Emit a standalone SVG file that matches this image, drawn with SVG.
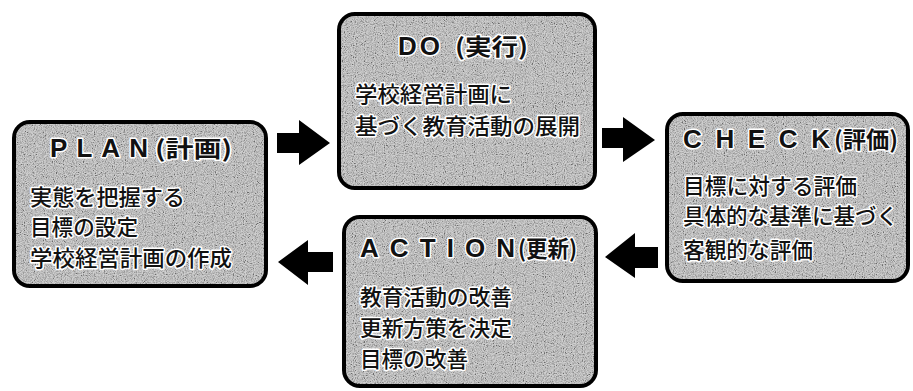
<svg xmlns="http://www.w3.org/2000/svg" width="913" height="391" viewBox="0 0 913 391">
  <defs>
    <filter id="grain" x="0" y="0" width="100%" height="100%">
      <feTurbulence type="fractalNoise" baseFrequency="0.9" numOctaves="2" seed="7" result="n"/>
      <feColorMatrix in="n" type="saturate" values="0" result="g"/>
      <feComponentTransfer in="g" result="c">
        <feFuncR type="linear" slope="3" intercept="-0.9"/>
        <feFuncG type="linear" slope="3" intercept="-0.9"/>
        <feFuncB type="linear" slope="3" intercept="-0.9"/>
        <feFuncA type="linear" slope="0" intercept="1"/>
      </feComponentTransfer>
      <feComposite in="c" in2="SourceGraphic" operator="in"/>
    </filter>
    <style>
      .box { fill: #b2b2b2; stroke: #000; stroke-width: 4; }
      .grain { fill: #fff; opacity: 0.4; filter: url(#grain); }
      .t { fill: #111; stroke: #fff; stroke-width: 3; stroke-linejoin: round; paint-order: stroke; }
      .title { font-family: "Liberation Sans", Arial, sans-serif; font-size: 26px; font-weight: bold; }
      .paren { font-family: "Noto Sans CJK JP", "Noto Sans", sans-serif; font-size: 23px; font-weight: bold; }
      .body { font-family: "Noto Sans CJK JP", "Noto Sans", sans-serif; font-size: 22px; font-weight: 500; }
      .arrow { fill: #000; }
    </style>
  </defs>
  <rect width="913" height="391" fill="#fff"/>

  <g id="plan">
    <rect class="box" x="14" y="122" width="252" height="164" rx="16"/>
    <rect class="grain" x="16" y="124" width="248" height="160" rx="14"/>
    <text class="t title" x="50" y="157" textLength="98" lengthAdjust="spacing">PLAN</text>
    <text class="t paren" x="155" y="157" textLength="77" lengthAdjust="spacingAndGlyphs">(計画)</text>
    <text class="t body" x="30" y="205" textLength="155" lengthAdjust="spacingAndGlyphs">実態を把握する</text>
    <text class="t body" x="30" y="235" textLength="108" lengthAdjust="spacingAndGlyphs">目標の設定</text>
    <text class="t body" x="30" y="266" textLength="202" lengthAdjust="spacingAndGlyphs">学校経営計画の作成</text>
  </g>

  <g id="do">
    <rect class="box" x="339" y="14" width="256" height="174" rx="16"/>
    <rect class="grain" x="341" y="16" width="252" height="170" rx="14"/>
    <text class="t title" x="398" y="55" textLength="42" lengthAdjust="spacing">DO</text>
    <text class="t paren" x="455" y="55" textLength="73" lengthAdjust="spacingAndGlyphs">(実行)</text>
    <text class="t body" x="355" y="102" textLength="157" lengthAdjust="spacingAndGlyphs">学校経営計画に</text>
    <text class="t body" x="355" y="134" textLength="225" lengthAdjust="spacingAndGlyphs">基づく教育活動の展開</text>
  </g>

  <g id="check">
    <rect class="box" x="667" y="114" width="241" height="167" rx="16"/>
    <rect class="grain" x="669" y="116" width="237" height="163" rx="14"/>
    <text class="t title" x="683" y="148" textLength="147" lengthAdjust="spacing">CHECK</text>
    <text class="t paren" x="834" y="148" textLength="64" lengthAdjust="spacingAndGlyphs">(評価)</text>
    <text class="t body" x="683" y="194" textLength="174" lengthAdjust="spacingAndGlyphs">目標に対する評価</text>
    <text class="t body" x="683" y="224" textLength="215" lengthAdjust="spacingAndGlyphs">具体的な基準に基づく</text>
    <text class="t body" x="683" y="258" textLength="130" lengthAdjust="spacingAndGlyphs">客観的な評価</text>
  </g>

  <g id="action">
    <rect class="box" x="344" y="217" width="252" height="169" rx="16"/>
    <rect class="grain" x="346" y="219" width="248" height="165" rx="14"/>
    <text class="t title" x="360" y="257" textLength="155" lengthAdjust="spacing">ACTION</text>
    <text class="t paren" x="518" y="257" textLength="59" lengthAdjust="spacingAndGlyphs">(更新)</text>
    <text class="t body" x="360" y="305" textLength="152" lengthAdjust="spacingAndGlyphs">教育活動の改善</text>
    <text class="t body" x="360" y="336" textLength="152" lengthAdjust="spacingAndGlyphs">更新方策を決定</text>
    <text class="t body" x="360" y="367" textLength="108" lengthAdjust="spacingAndGlyphs">目標の改善</text>
  </g>

  <g id="connectors">
    <polygon class="arrow" points="277,133 299,133 299,120 330,143 299,165 299,153 277,153"/>
    <polygon class="arrow" points="602,128 623,128 623,117 655,140 623,162 623,148 602,148"/>
    <polygon class="arrow" points="658,247 635,247 635,233 605,257 635,278 635,268 658,268"/>
    <polygon class="arrow" points="333,252 308,252 308,240 278,262 308,285 308,272 333,272"/>
  </g>
</svg>
